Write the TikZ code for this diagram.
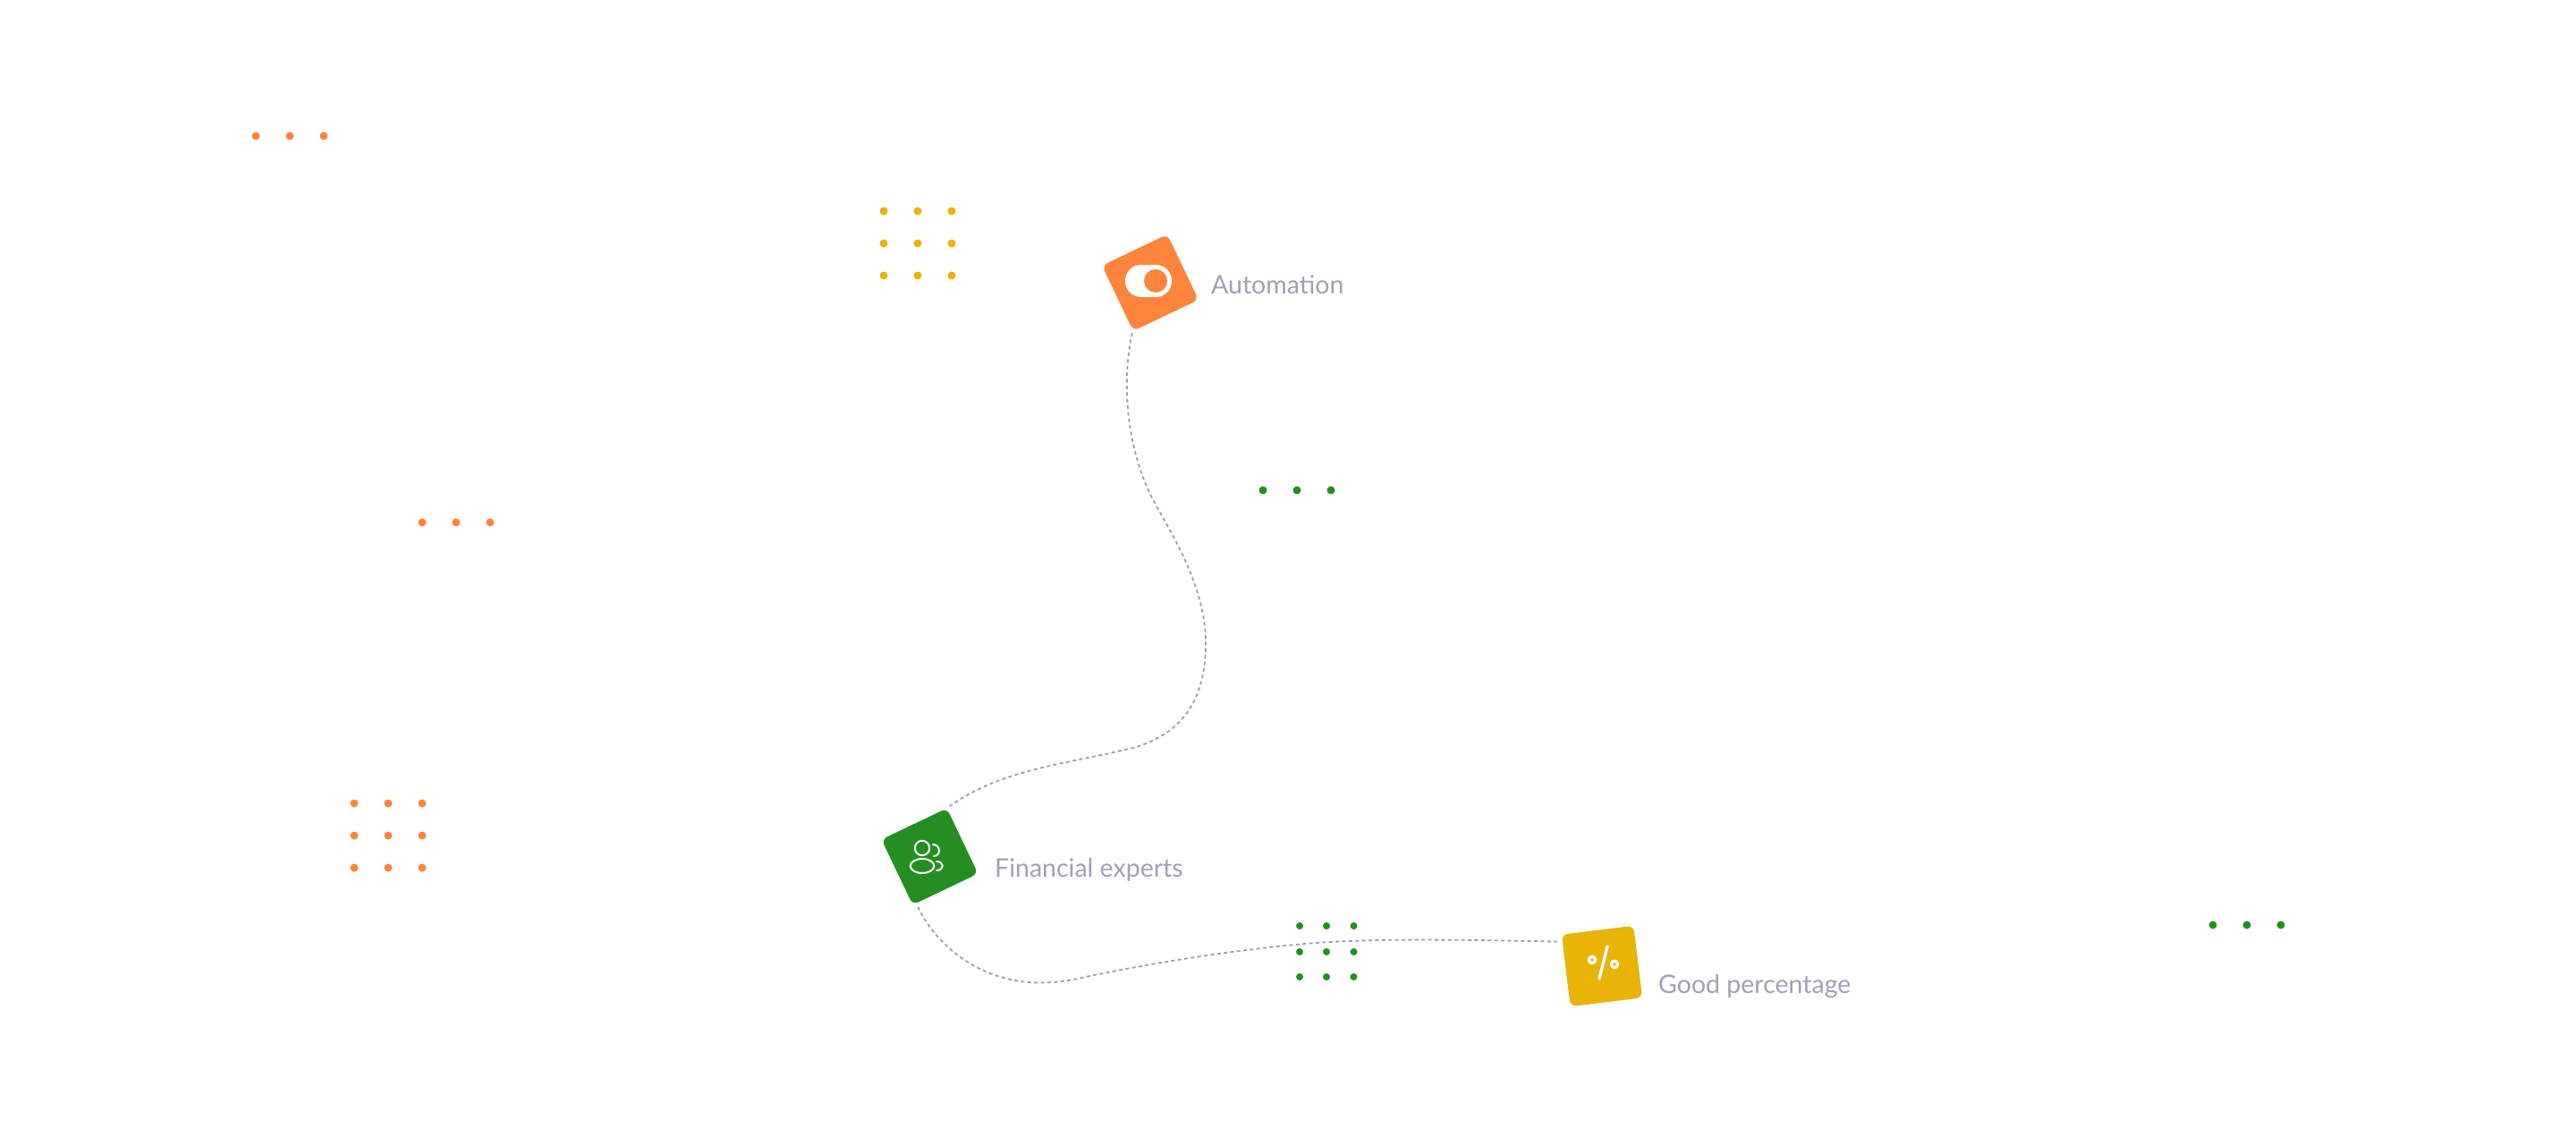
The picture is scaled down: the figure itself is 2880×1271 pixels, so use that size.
\documentclass[tikz,border=0pt]{standalone}
\usepackage{fontspec}
\setmainfont{Lato}
\definecolor{cOrange}{HTML}{FF843C}
\definecolor{cYellow}{HTML}{E9B308}
\definecolor{cGreen}{HTML}{248E23}
\definecolor{cText}{HTML}{9CA3B4}
\definecolor{cLine}{HTML}{9A9FB0}
\tikzset{
  dotmark/.style={circle,inner sep=0pt,minimum size=9pt,fill=#1},
  tile/.style={rectangle,rounded corners=7pt,minimum size=81pt,inner sep=0pt,fill=#1},
  lbl/.style={anchor=base west,inner sep=0pt,text=cText,font=\fontsize{28.5}{34}\selectfont},
  link/.style={draw=cLine,line width=1.8pt,dash pattern=on 4pt off 3.4pt},
  iconline/.style={draw=white,line width=2pt,line cap=round},
}
\begin{document}
\begin{tikzpicture}[x=1pt,y=-1pt]
\useasboundingbox (0,0) rectangle (2880,1271);
% dot groups
\foreach \x in {286,324,362} \node[dotmark=cOrange] (ot\x) at (\x,152) {};
\foreach \x in {472,510,548} \node[dotmark=cOrange] (om\x) at (\x,584) {};
\foreach \x in {1412,1450,1488} \node[dotmark=cGreen] (gm\x) at (\x,548) {};
\foreach \x in {2474,2512,2550} \node[dotmark=cGreen] (gr\x) at (\x,1034) {};
\foreach \x in {988,1026,1064} \foreach \y in {236,272,308} \node[dotmark=cYellow] (y\x-\y) at (\x,\y) {};
\foreach \x in {396,434,472} \foreach \y in {898,934,970} \node[dotmark=cOrange] (o\x-\y) at (\x,\y) {};
\foreach \x in {1453,1483,1513.5} \foreach \y in {1035,1064,1092} \node[dotmark=cGreen,minimum size=8pt] (g\x-\y) at (\x,\y) {};
% tiles
\node[tile=cOrange,rotate=25.5] (auto) at (1286,316) {};
\node[tile=cGreen,rotate=25.5] (fin) at (1039.5,957.5) {};
\node[tile=cYellow,rotate=7] (good) at (1791,1080) {};
% connectors
\draw[link] ([shift={(-1pt,-2pt)}]auto.south west)
  .. controls (1255,420) and (1256,500) .. (1293,566)
  .. controls (1315,605) and (1348,660) .. (1348,719)
  .. controls (1348,790) and (1315,822) .. (1267,836)
  .. controls (1187,855) and (1120,860) .. ([shift={(3pt,2pt)}]fin.north east);
\draw[link] ([shift={(6pt,-2pt)}]fin.south west)
  .. controls (1043,1050) and (1080,1082) .. (1122,1093)
  .. controls (1150,1101) and (1180,1100) .. (1214,1092)
  .. controls (1290,1076) and (1380,1062) .. (1459,1055)
  .. controls (1540,1048) and (1650,1051) .. ([shift={(-1pt,-8pt)}]good.north west);
% toggle icon
\fill[white,rounded corners=17.5pt] (1258,296) rectangle (1310,332);
\fill[cOrange] (1292,314) circle[radius=13];
% people icon
\draw[iconline] (1031,948) circle[radius=8.2];
\draw[iconline] (1031,968) ellipse[x radius=13.3,y radius=8];
\draw[iconline] (1043,944) .. controls (1052,944) and (1052,957) .. (1044,957);
\draw[iconline] (1047,963) .. controls (1056,963) and (1056,973) .. (1047,973);
% percent icon
\draw[iconline,line width=3.4pt] (1797,1058) -- (1788,1094);
\draw[draw=white,line width=3.3pt] (1780,1073) circle[radius=3.6];
\draw[draw=white,line width=3.3pt] (1805,1078) circle[radius=3.6];
% labels
\node[lbl] (autoL) at (1354,328) {Automation};
\node[lbl] (finL) at (1112,980) {Financial experts};
\node[lbl] (goodL) at (1854,1110) {Good percentage};
\end{tikzpicture}
\end{document}
